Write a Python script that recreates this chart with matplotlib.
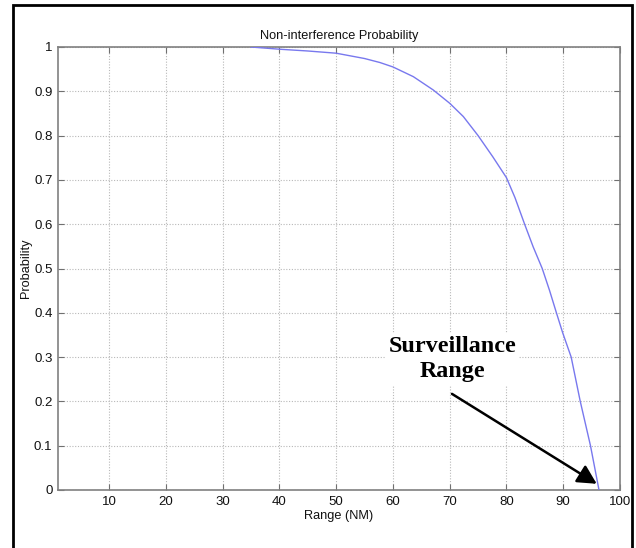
import matplotlib
matplotlib.use("Agg")
import matplotlib.pyplot as plt
from matplotlib.patches import Rectangle

# Data
range_nm = [35, 40, 45, 50, 55, 57.7, 60, 63.6, 67.1, 70, 72.4, 75, 77.6, 80, 81.5,
            83.2, 84.7, 86.3, 87.6, 88.8, 89.9, 91.4, 93.0, 94.8, 96.3]
probability = [1.0, 0.995, 0.991, 0.986, 0.974, 0.965, 0.955, 0.933, 0.903, 0.873, 0.843,
               0.80, 0.752, 0.705, 0.660, 0.60, 0.549, 0.50, 0.45, 0.40, 0.355, 0.30,
               0.20, 0.10, 0.0]
x_ticks = [10, 20, 30, 40, 50, 60, 70, 80, 90, 100]
y_ticks = [0, 0.1, 0.2, 0.3, 0.4, 0.5, 0.6, 0.7, 0.8, 0.9, 1.0]
y_tick_labels = ["0", "0.1", "0.2", "0.3", "0.4", "0.5", "0.6", "0.7", "0.8", "0.9", "1"]
title = "Non-interference Probability"
x_label = "Range (NM)"
y_label = "Probability"
annotation_text = "Surveillance\nRange"

plt.rcParams["font.family"] = ["Liberation Sans", "DejaVu Sans"]

W, H = 636, 548
fig = plt.figure(figsize=(W / 100, H / 100), dpi=100)

# outer frame
fig.patches.append(Rectangle((13 / W, -0.01), (632 - 13) / W, 1 - 5 / H + 0.01,
                             transform=fig.transFigure, fill=False,
                             edgecolor="black", linewidth=2, zorder=0))

ax = fig.add_axes([58 / W, 1 - 490 / H, (620 - 58) / W, (490 - 47) / H])
ax.plot(range_nm, probability, color="#7878ee", linewidth=1.0, zorder=3)

ax.set_xlim(1, 100)
ax.set_ylim(0, 1)
ax.set_xticks(x_ticks)
ax.set_yticks(y_ticks)
ax.set_yticklabels(y_tick_labels)
ax.tick_params(direction="in", length=4, width=0.8, color="#707070",
               top=True, right=True, labelsize=9.5, labelcolor="#111111", pad=4)
ax.grid(True, linestyle=(0, (1, 1.5)), color="#b8b8b8", linewidth=0.8)
for s in ax.spines.values():
    s.set_color("#808080")
    s.set_linewidth(1.2)

ax.set_title(title, fontsize=9.2, color="#111111", pad=6)
ax.set_xlabel(x_label, fontsize=9.2, color="#111111", labelpad=2)
ax.set_ylabel(y_label, fontsize=9.2, color="#111111")
ax.yaxis.set_label_coords(-0.047, 0.5)

ax.annotate("", xy=(95.9, 0.014), xytext=(70.4, 0.217),
            arrowprops=dict(arrowstyle="-|>,head_length=1.15,head_width=0.6",
                            color="black", linewidth=1.8, shrinkA=0, shrinkB=0),
            zorder=5)
ax.text(70.5, 0.296, annotation_text, fontsize=17.4, fontweight="bold",
        family=["Liberation Serif", "DejaVu Serif"], ha="center", va="center",
        linespacing=1.25, zorder=4,
        bbox=dict(facecolor="white", edgecolor="none", pad=2))

fig.savefig("out.png", dpi=100)
